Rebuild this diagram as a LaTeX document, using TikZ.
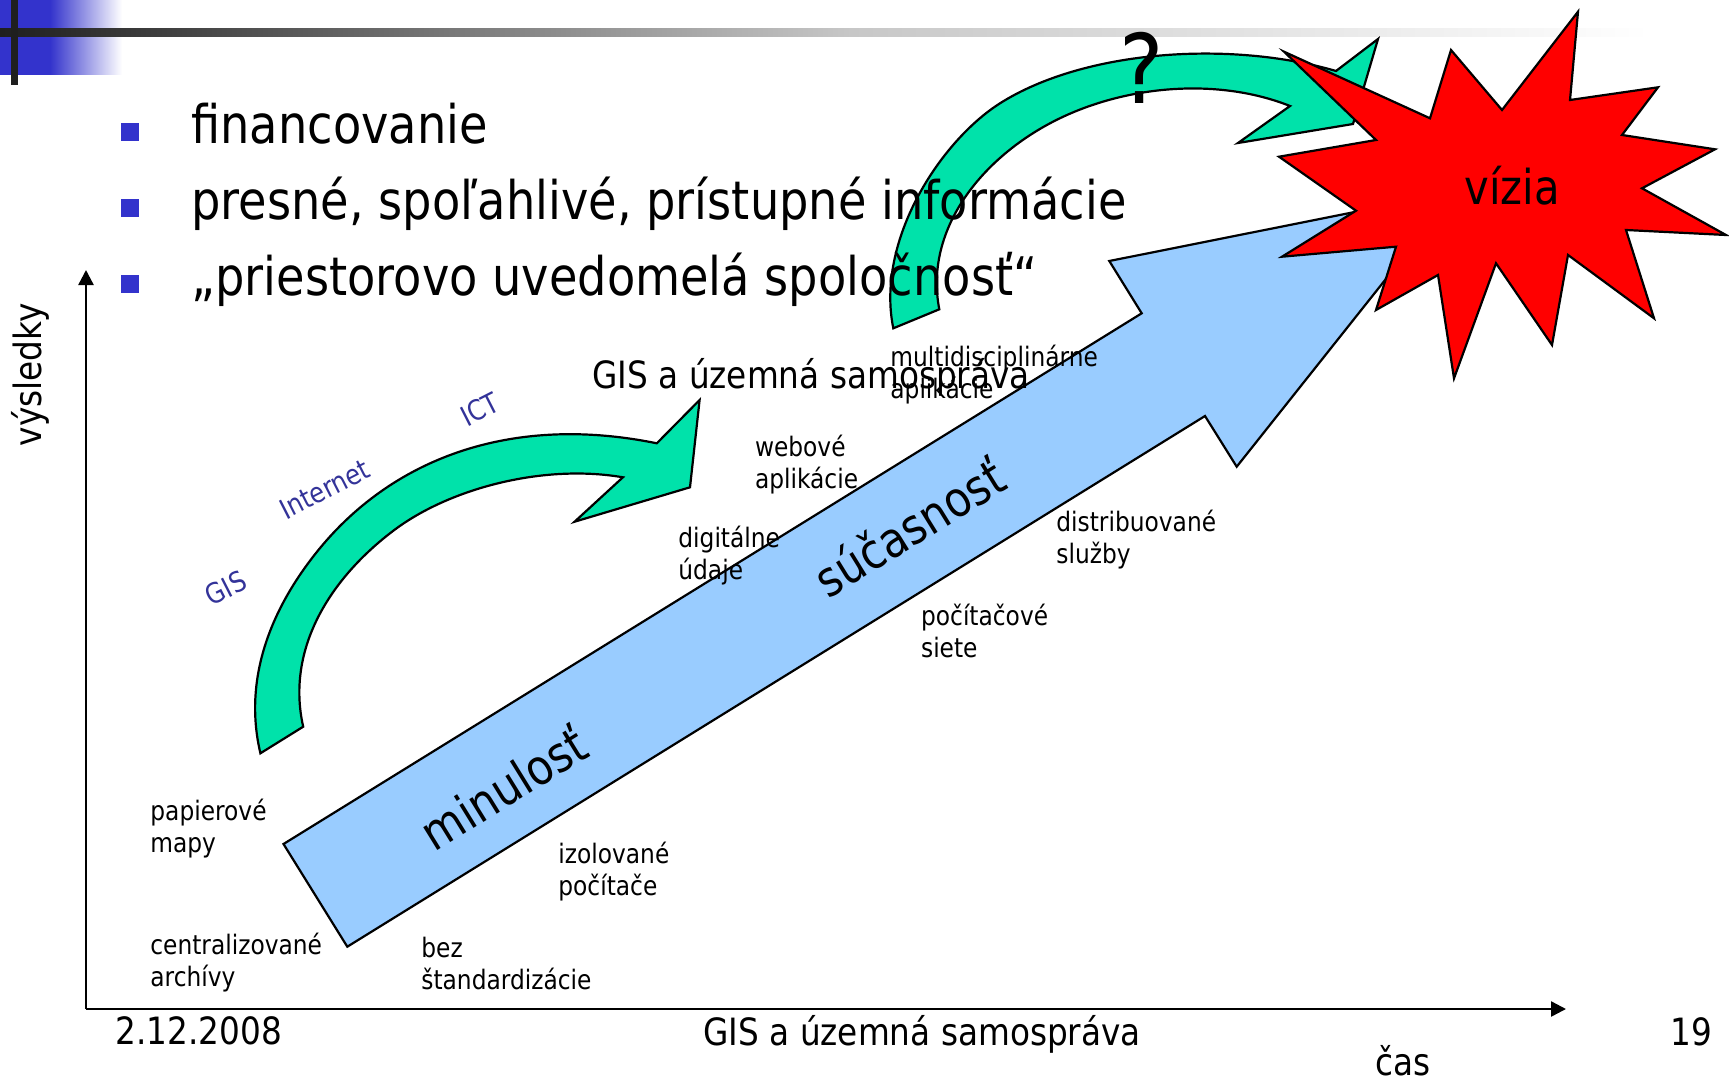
\documentclass[tikz,border=0pt]{standalone}
\usepackage{fontspec}
\setmainfont{DejaVu Sans}[FakeStretch=0.87]
\usetikzlibrary{arrows.meta}
\definecolor{hdrblue}{RGB}{51,51,204}
\definecolor{lblblue}{RGB}{51,51,153}
\definecolor{arrgreen}{RGB}{0,226,170}
\definecolor{arrblue}{RGB}{153,204,255}
\definecolor{starred}{RGB}{255,0,0}
\begin{document}
\begin{tikzpicture}[x=0.5pt,y=-0.5pt,
  shapeline/.style={draw=black,line width=1.1pt,line join=miter},
  greenarrow/.style={shapeline,fill=arrgreen},
  bluearrow/.style={shapeline,fill=arrblue},
  starshape/.style={shapeline,fill=starred},
  bullettext/.style={anchor=base west,inner sep=0pt,font=\fontsize{26.6}{31}\selectfont},
  bulletsq/.style={fill=hdrblue,minimum size=9pt,inner sep=0pt},
  lbl/.style={anchor=west,align=left,inner sep=0pt,font=\fontsize{13.4}{16}\selectfont},
  techlbl/.style={inner sep=0pt,text=lblblue,rotate=27,font=\fontsize{14}{16}\selectfont},
  biglbl/.style={inner sep=0pt,rotate=31.7,font=\fontsize{24.5}{30}\selectfont},
  midtext/.style={anchor=base west,inner sep=0pt,font=\fontsize{18.8}{22}\selectfont},
  axisline/.style={line width=1.2pt,-{Triangle[length=7.5pt,width=7.5pt]}},
]
\useasboundingbox (0,0) rectangle (1729,1081);
% header
\fill[hdrblue] (0,0) rectangle (50,75);
\shade[left color=hdrblue,right color=white] (50,0) rectangle (122,75);
\shade[left color=black!88,right color=black!22] (0,29) rectangle (850,37);
\shade[left color=black!22,right color=white] (850,29) rectangle (1650,37);
\fill[black!88] (11,0) rectangle (18,85);
% axes
\coordinate (O) at (86,1009);
\coordinate (Ytip) at (86,270);
\coordinate (Xtip) at (1566,1009);
\draw[axisline] (O) -- (Ytip);
\draw[axisline] (O) -- (Xtip);
% lower green arrow
\draw[greenarrow] (260.4,753.3) .. controls (243.2,680.5) and (269.5,611.5) .. (316,553)
  .. controls (390.4,459.4) and (509.8,413.3) .. (656.8,443.3)
  -- (699.6,400) -- (690,487.3) -- (574.6,521.7) -- (622.9,477.3)
  .. controls (544.1,463.7) and (450.3,488) .. (394.3,530)
  .. controls (330.3,578) and (285.6,648.7) .. (303.2,726.7) -- cycle;
% upper green arrow
\draw[greenarrow] (893.3,328.3) .. controls (875.3,240.1) and (940.9,140.8) .. (1000,103.3)
  .. controls (1084.5,49.8) and (1230.4,40.2) .. (1336,71)
  -- (1378,39) -- (1353,124) -- (1238,143) -- (1290,106)
  .. controls (1215.6,76.4) and (1120.4,85.7) .. (1050,123.3)
  .. controls (979.6,160.9) and (924.1,230.9) .. (939.3,309.3) -- cycle;
% blue arrow
\draw[bluearrow] (283.5,844) -- (1141.7,313.3) -- (1109.3,261) -- (1455,192) -- (1236.7,466.7) -- (1205,416) -- (347.3,946.7) -- cycle;
% star
\draw[starshape] (1578,11.7) -- (1570,100) -- (1658,87.3) -- (1622,135) -- (1715,149.3) -- (1642,188.3) -- (1726,235) -- (1626,230) -- (1654,318.3) -- (1568,255) -- (1552,345) -- (1496,263.3) -- (1454,378.3) -- (1438,275) -- (1376,310) -- (1396,246.7) -- (1282,256.7) -- (1356,210.7) -- (1279,156.7) -- (1376,140) -- (1284,51.7) -- (1430,118.3) -- (1451,50) -- (1502,110) -- cycle;
\node[anchor=base west,inner sep=0pt,font=\fontsize{24}{28}\selectfont] (vizia) at (1464,205) {vízia};
\node[anchor=base,inner sep=0pt,font=\fontsize{48}{56}\selectfont] (qm) at (1141.7,103.3) {?};
% bullets
\node[bulletsq] (b1) at (130,132) {};
\node[bulletsq] (b2) at (130,208) {};
\node[bulletsq] (b3) at (130,284) {};
\node[bullettext] (t1) at (191,143) {financovanie};
\node[bullettext] (t2) at (191,219) {presné, spoľahlivé, prístupné informácie};
\node[bullettext] (t3) at (191,295) {„priestorovo uvedomelá spoločnosť“};
% tech labels
\node[techlbl] (gis) at (225.7,588.3) {GIS};
\node[techlbl] (inet) at (324.6,489.3) {Internet};
\node[techlbl] (ict) at (480,409.3) {ICT};
% arrow labels
\node[biglbl] (minul) at (503,787) {minulosť};
\node[biglbl] (sucas) at (909,527) {súčasnosť};
% stage labels
\node[lbl] (papier) at (150,829) {papierové\\mapy};
\node[lbl] (central) at (150,963) {centralizované\\archívy};
\node[lbl] (bez) at (421,963) {bez\\štandardizácie};
\node[lbl] (izol) at (558,872) {izolované\\počítače};
\node[lbl] (digit) at (678,555.5) {digitálne\\údaje};
\node[lbl] (web) at (754.6,465) {webové\\aplikácie};
\node[lbl] (multi) at (890,374.5) {multidisciplinárne\\aplikácie};
\node[lbl] (distr) at (1056,540) {distribuované\\služby};
\node[lbl] (pocsiete) at (920.7,631) {počítačové\\siete};
\node[midtext] (gisuz) at (592,388) {GIS a územná samospráva};
% axis labels
\node[midtext,rotate=90] (vysl) at (41.7,446.7) {výsledky};
\node[midtext] (cas) at (1375,1075) {čas};
% footer
\node[midtext] (date) at (115,1044) {2.12.2008};
\node[midtext] (foot) at (703,1045) {GIS a územná samospráva};
\node[midtext] (page) at (1670,1045) {19};
\end{tikzpicture}
\end{document}
